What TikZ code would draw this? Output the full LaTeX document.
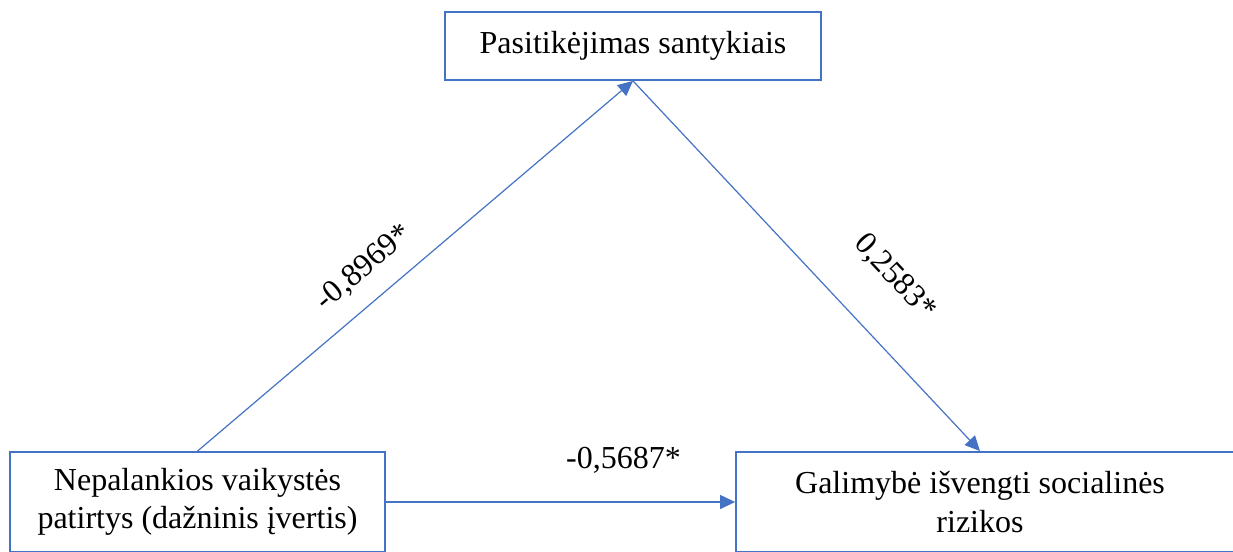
\documentclass[tikz,border=0pt]{standalone}
\usepackage{fontspec}
\setmainfont{Liberation Serif}
\usepackage{xcolor}
\usetikzlibrary{arrows.meta, positioning, calc}
\definecolor{boxblue}{HTML}{4472C4}
\begin{document}
\begin{tikzpicture}[
      x=1pt, y=-1pt,
      font=\fontsize{32}{38.4}\selectfont,
      box/.style={draw=boxblue, line width=1.8pt, rectangle, inner sep=0pt},
      link/.style={draw=boxblue, line width=1.2pt, -{Triangle[length=15pt, width=14pt]}},
      coef/.style={inner sep=0pt, sloped}
    ]
      \useasboundingbox (0,0) rectangle (1233,551);
      \node[box, minimum width=376pt, minimum height=68pt] (trust) at (633,46) {Pasitikėjimas santykiais};
      \node[box, minimum width=375pt, minimum height=100pt, align=center] (adverse) at (197.5,502)
        {Nepalankios vaikystės\\patirtys (dažninis įvertis)};
      \node[box, minimum width=504pt, minimum height=100pt] (risk) at (988,502) {};
      \node[align=center, inner sep=0pt] (risktext) at (980,502) {Galimybė išvengti socialinės\\rizikos};
      \draw[link] (adverse.north) -- node[coef, pos=0.43, above=18pt] {-0,8969*} (trust.south);
      \draw[link] (trust.south) -- node[coef, pos=0.635, above=43pt] {0,2583*} (risktext |- risk.north);
      \draw[link] (adverse.east) -- node[inner sep=0pt, above=28pt, xshift=63pt] {-0,5687*} (risk.west);
    \end{tikzpicture}
\end{document}
